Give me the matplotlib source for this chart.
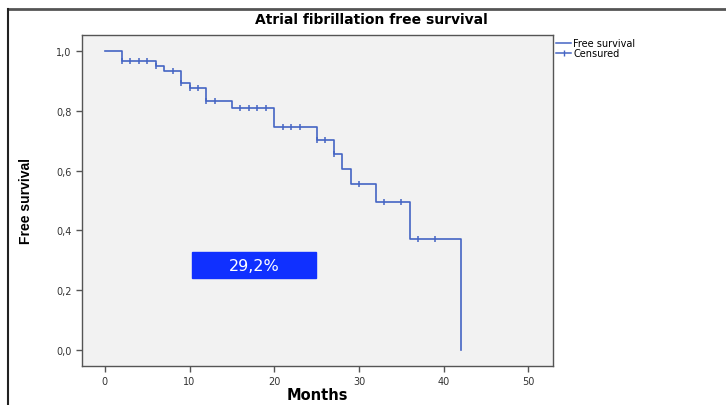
import numpy as np
import matplotlib
matplotlib.use('Agg')
import matplotlib.pyplot as plt
from matplotlib.lines import Line2D
from matplotlib.patches import Rectangle

# Kaplan-Meier steps
event_months = [0, 2, 6, 7, 9, 10, 12, 15, 20, 25, 27, 28, 29, 32, 36, 42]
survival = [1.0, 0.967, 0.951, 0.932, 0.895, 0.878, 0.834, 0.808, 0.745,
            0.703, 0.656, 0.607, 0.556, 0.494, 0.372, 0.0]
censored_months = [2, 3, 4, 5, 6, 8, 9, 10, 11, 12, 13, 16, 17, 18, 19,
                   21, 22, 23, 25, 26, 27, 30, 33, 35, 37, 39]
x_ticks = [0, 10, 20, 30, 40, 50]
y_ticks = [0.0, 0.2, 0.4, 0.6, 0.8, 1.0]
y_tick_labels = ['0,0', '0,2', '0,4', '0,6', '0,8', '1,0']
box_text = '29,2%'

line_col = '#4565c4'
frame_col = '#555555'

fig = plt.figure(figsize=(7.26, 4.06), dpi=100)
fig.patch.set_facecolor('white')
ax = fig.add_axes([0.1129, 0.0961, 0.6488, 0.8152])
ax.set_facecolor('#f2f2f2')

ax.step(event_months, survival, where='post', color=line_col, lw=1.2)
# censored marks sit on the current step level
idx = np.searchsorted(event_months, censored_months, side='right') - 1
cens_surv = np.array(survival)[idx]
ax.plot(censored_months, cens_surv, ls='none', marker='|', ms=5,
        mew=1.1, color=line_col)

ax.add_patch(Rectangle((10.3, 0.240), 14.6, 0.087, facecolor='#1030ff',
                       edgecolor='#1030ff', zorder=3))
ax.text(17.6, 0.283, box_text, color='white', fontsize=11.5,
        ha='center', va='center', zorder=4)

ax.set_xlim(-2.7, 52.9)
ax.set_ylim(-0.054, 1.054)
ax.set_xticks(x_ticks)
ax.set_xticklabels([str(t) for t in x_ticks])
ax.set_yticks(y_ticks)
ax.set_yticklabels(y_tick_labels)
ax.tick_params(direction='out', length=4, width=1, color=frame_col,
               labelsize=7, labelcolor='#333333')
for s in ax.spines.values():
    s.set_color(frame_col)
    s.set_linewidth(1)

ax.set_xlabel('Months', fontsize=10.5, fontweight='bold')
ax.xaxis.set_label_coords(0.5, -0.062)
ax.set_ylabel('Free survival', fontsize=10, fontweight='bold',
              family=['Liberation Sans Narrow', 'Liberation Sans', 'DejaVu Sans'])
ax.yaxis.set_label_coords(-0.104, 0.5)

fig.text(0.512, 0.951, 'Atrial fibrillation free survival', ha='center',
         va='center', fontsize=10, fontweight='bold')

handles = [Line2D([], [], color=line_col, lw=1.1),
           Line2D([], [], color=line_col, lw=1.1, marker='|', ms=5)]
ax.legend(handles, ['Free survival', 'Censured'], loc='upper left',
          bbox_to_anchor=(1.0, 1.0), frameon=False, fontsize=7,
          handlelength=1.6, handletextpad=0.2, labelspacing=0.05,
          borderpad=0.1, borderaxespad=0.2)

# outer frame lines of the screenshot
fig.add_artist(Line2D([8 / 726, 1.0], [1 - 10 / 406, 1 - 10 / 406],
                      transform=fig.transFigure, color='#555555', lw=2))
fig.add_artist(Line2D([8 / 726, 8 / 726], [0.0, 1 - 10 / 406],
                      transform=fig.transFigure, color='#222222', lw=1.5))

fig.savefig('out.png', dpi=100)
